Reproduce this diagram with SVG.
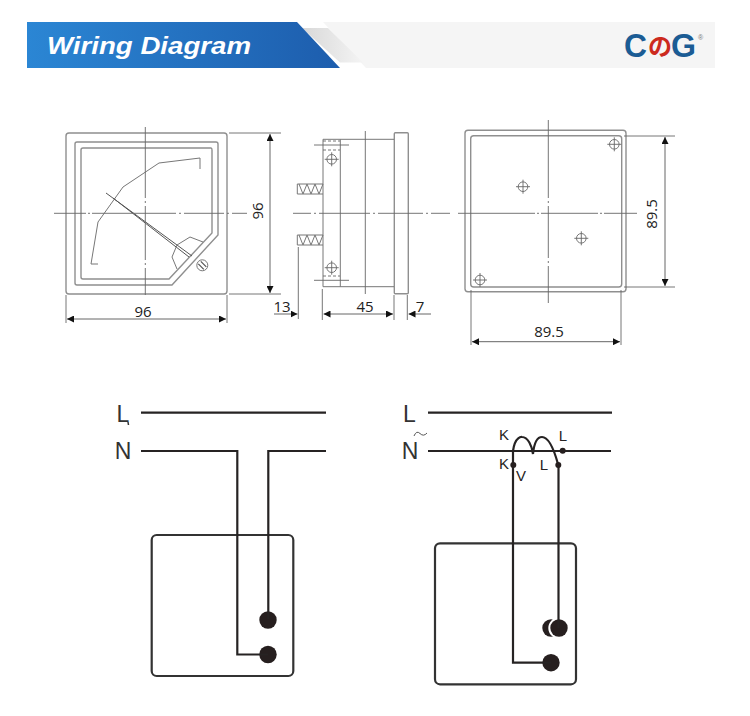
<svg xmlns="http://www.w3.org/2000/svg" width="750" height="716" viewBox="0 0 750 716">
<style>
text{font-family:"Open Sans","Noto Sans",sans-serif}
.o{fill:none;stroke:#8f8f8f;stroke-width:1.4}
.t{fill:none;stroke:#777;stroke-width:1}
.c{fill:none;stroke:#666;stroke-width:.9}
.d{fill:none;stroke:#666;stroke-width:.9}
.a{fill:none;stroke:#666;stroke-width:1;marker-start:url(#ah);marker-end:url(#ah)}
.a1{fill:none;stroke:#666;stroke-width:1;marker-end:url(#ah)}
.dim{font-size:15px;fill:#222;text-anchor:middle}
.w{fill:none;stroke:#262323;stroke-width:2.2}
.b{fill:none;stroke:#333;stroke-width:2.2}
.p{fill:#261f1f}
.lab{font-family:"Liberation Sans",sans-serif;font-size:23px;fill:#333;text-anchor:middle}
.sm{font-family:"Liberation Sans",sans-serif;font-size:15px;fill:#262323;text-anchor:middle}
</style>
<defs>
<marker id="ah" viewBox="0 0 10 10" refX="10" refY="5" markerWidth="7" markerHeight="7" markerUnits="userSpaceOnUse" orient="auto-start-reverse"><path d="M0 0L10 5L0 10Z" fill="#111"/></marker>
<linearGradient id="bl" x1="0" x2="1" y1="0" y2="0"><stop offset="0" stop-color="#2b86d4"/><stop offset="1" stop-color="#1d5dad"/></linearGradient>
<linearGradient id="fold" x1="0" x2="1" y1="0" y2="0"><stop offset="0" stop-color="#d8d8d8"/><stop offset="1" stop-color="#f4f4f4"/></linearGradient>
<g id="hole"><circle r="4.8" class="t"/><path d="M-7 0H7M0-7V7" class="c"/></g>
</defs>

<g id="header">
<path d="M323 22H715V68H366Z" fill="#f5f5f5"/>
<path d="M302 28H328L363 62.5H340Z" fill="url(#fold)"/>
<path d="M27 22H297L340 68H27Z" fill="url(#bl)"/>
<text x="47" y="54" font-size="24" font-weight="700" font-style="italic" fill="#fff" textLength="204" lengthAdjust="spacingAndGlyphs" style="font-family:'Liberation Sans',sans-serif">Wiring Diagram</text>
<text x="624" y="57" font-size="33" font-weight="700" fill="#1b5c94" textLength="23" lengthAdjust="spacingAndGlyphs" style="font-family:'Liberation Sans',sans-serif">C</text>
<text x="648" y="55" font-size="24" font-weight="700" fill="#cc2a1e" style="font-family:'Noto Sans CJK JP',sans-serif">の</text>
<text x="671" y="57" font-size="33" font-weight="700" fill="#1b5c94" textLength="25" lengthAdjust="spacingAndGlyphs" style="font-family:'Liberation Sans',sans-serif">G</text>
<text x="698" y="40" font-size="7" fill="#777" style="font-family:'Liberation Sans',sans-serif">®</text>
</g>

<g id="front-view">
<rect x="66" y="133" width="161" height="161" rx="3" class="o"/>
<path d="M77 142H216Q218 142 218 144V235L172 285H77Q75 285 75 283V144Q75 142 77 142Z" class="o"/>
<path d="M83 148H211Q212 148 212 150V233L169 279H83Q81 279 81 277V150Q81 148 83 148Z" class="o"/>
<path d="M98 264H91L98 222L123 187L159 163L200 158V169" class="t"/>
<path d="M106 193L192 256M113 198L189 257" fill="none" stroke="#555" stroke-width="1"/>
<path d="M177 245L172 257L177 269M177 245L190 237L203 242" class="t"/>
<g transform="translate(202.300 265.300)"><circle r="5.500" class="t"/><path d="M-4-1.500L1.500 4M-1.500-4L4 1.500" fill="none" stroke="#555" stroke-width="1.200"/></g>
<path d="M145.300 127V198M145.300 201V203M145.300 206V260M145.300 263V265M145.300 268V295M54 213.300H86M88 213.300H90M92 213.300H176M179 213.300H181M184 213.300H224M227 213.300H229M232 213.300H247" class="c"/>
<path d="M229 133H281M229 294H281" class="d"/>
<path d="M270 134V293" class="a"/>
<path d="M66 295V323M227 295V323" class="d"/>
<path d="M67 319H226" class="a"/>
<text class="dim" x="143" y="317">96</text>
<text class="dim" transform="translate(263 211) rotate(-90)">96</text>
</g>

<g id="side-view">
<rect x="394.300" y="132.700" width="14" height="161" rx="1" class="o"/>
<path d="M394 139.300H323V286.700H394M340.300 139.300V286.700" class="t"/>
<path d="M323 150H340M323 276H340M323 141H340" class="c" stroke-dasharray="3 2"/>
<path d="M314 145H349M314 280.300H349" class="c"/>
<use href="#hole" x="331.700" y="159.300"/>
<use href="#hole" x="331.700" y="267.700"/>
<path d="M323 184H297.300V194H323M299 184L303 194L307 184L311 194L315 184L319 194L323 184" class="t"/>
<path d="M323 235H297.300V245H323M299 235L303 245L307 235L311 245L315 235L319 245L323 235" class="t"/>
<path d="M365.300 131V294M293 213.300H311M314 213.300H316M319 213.300H370M373 213.300H375M378 213.300H423M426 213.300H428M431 213.300H450" class="c"/>
<path d="M298.300 247V319M322.300 289V320M394 295V320M407.300 295V320" class="d"/>
<path d="M274 314H297.500" class="a1"/>
<path d="M323.500 314H393" class="a"/>
<path d="M431 314H408.500" class="a1"/>
<text class="dim" x="282" y="312">13</text>
<text class="dim" x="365" y="312">45</text>
<text class="dim" x="420" y="312">7</text>
</g>

<g id="back-view">
<rect x="465" y="130.300" width="161" height="161.400" rx="3" class="o"/>
<rect x="470.700" y="135.700" width="151" height="151.300" rx="3" class="o"/>
<path d="M548.300 120V198M548.300 201V203M548.300 206V258M548.300 261V263M548.300 266V303M458 213.300H535M537 213.300H539M541 213.300H598M600 213.300H602M604 213.300H637" class="c"/>
<use href="#hole" x="614.300" y="144.300"/>
<use href="#hole" x="523" y="186.700"/>
<use href="#hole" x="581.300" y="238.300"/>
<use href="#hole" x="480" y="280"/>
<path d="M624 136H675M624 287H675M471 290V345M621 290V345" class="d"/>
<path d="M665 137V286" class="a"/>
<path d="M472 341.700H620" class="a"/>
<text class="dim" x="549" y="337">89.5</text>
<text class="dim" transform="translate(657 214) rotate(-90)">89.5</text>
</g>

<g id="meter-left">
<rect x="151.700" y="535" width="141.600" height="141" rx="5" class="b"/>
<circle class="p" cx="268" cy="620" r="8.700"/>
<circle class="p" cx="268" cy="654.500" r="8.700"/>
</g>
<g id="labels-left">
<text class="lab" x="123" y="422">L</text>
<path d="M128 422L128.500 425" stroke="#333" stroke-width="1.500" fill="none"/>
<text class="lab" x="123" y="459">N</text>
</g>
<g id="meter-right">
<rect x="435" y="543.300" width="141" height="141" rx="5" class="b"/>
<circle class="p" cx="551" cy="628" r="8.700"/>
<circle class="p" cx="559" cy="628" r="8.700" stroke="#fff" stroke-width="4" paint-order="stroke"/>
<circle class="p" cx="551" cy="662.700" r="8.700"/>
</g>
<g id="labels-right">
<text class="lab" x="409.500" y="422">L</text>
<text class="lab" x="410" y="459">N</text>
<path d="M414 436Q416.500 430 420 433.500T427 433" fill="none" stroke="#555" stroke-width="1"/>
<text class="sm" x="504" y="440">K</text>
<text class="sm" x="504" y="469">K</text>
<text class="sm" x="521" y="481">V</text>
<text class="sm" x="544" y="470">L</text>
<text class="sm" x="563" y="441">L</text>
</g>
<g id="connectors">
<path class="w" d="M141 412.700H326M141 451H237.300V654.500H268M268.300 619V451H326"/>
<path class="w" d="M428 412.700H612M428 451H611M513 451V662.700H551M558.500 465V628"/>
<path class="w" d="M513 451C515 436 522 437 522 437C528 437 532 446 533 454C534 444 537 437 542 437C548 437 553 446 558 464"/>
<circle class="p" cx="513.300" cy="465" r="3"/>
<circle class="p" cx="558.300" cy="465" r="3"/>
<circle class="p" cx="562.700" cy="450.700" r="3"/>
</g>
</svg>
